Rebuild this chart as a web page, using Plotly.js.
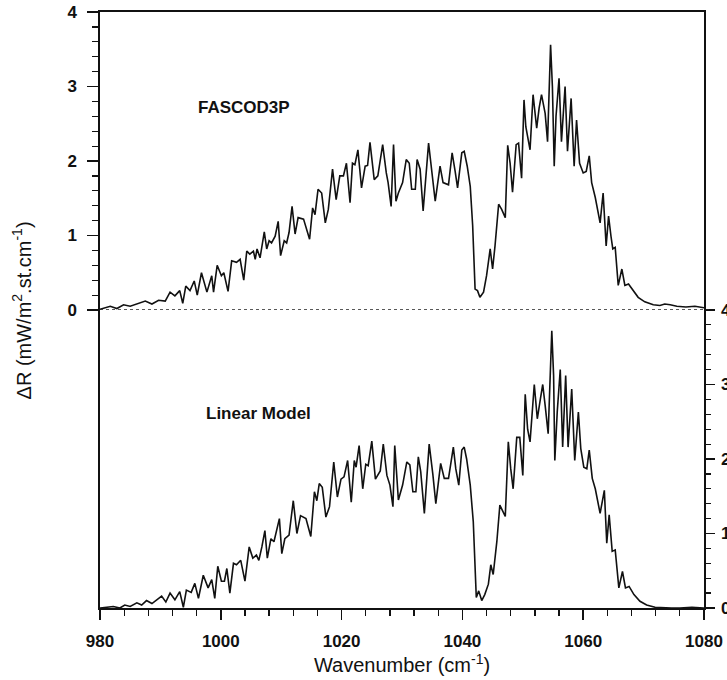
<!DOCTYPE html>
<html>
<head>
<meta charset="utf-8">
<script src="https://cdn.plot.ly/plotly-3.0.1.min.js"></script>
<style>html,body{margin:0;padding:0;background:#fff;}#chart{width:727px;height:680px;}</style>
</head>
<body>
<div id="chart"></div>
<script>
// Wavenumber (cm-1) and radiance perturbation (mW/m2.st.cm-1)
const fascodX = [980.0,981.7,982.8,983.9,985.0,986.3,987.5,988.6,989.7,990.8,991.6,992.4,993.2,993.7,994.2,994.9,995.6,996.1,996.8,997.7,998.5,998.8,999.4,1000.1,1000.5,1001.2,1001.8,1002.6,1003.2,1003.8,1004.3,1004.8,1005.4,1005.7,1006.0,1006.5,1007.2,1007.6,1008.0,1008.4,1009.0,1009.5,1009.9,1010.5,1010.9,1011.3,1011.8,1012.3,1012.8,1013.7,1014.7,1015.2,1015.6,1016.1,1016.7,1017.3,1017.8,1018.5,1019.1,1019.7,1020.3,1020.8,1021.4,1021.8,1022.2,1022.7,1023.3,1023.9,1024.3,1024.7,1025.4,1026.0,
1026.8,1027.4,1027.7,1028.2,1028.6,1029.0,1029.4,1030.1,1030.7,1031.2,1031.6,1032.2,1032.5,1033.0,1033.5,1034.4,1034.9,1035.5,1036.3,1036.8,1037.7,1038.3,1038.8,1039.2,1039.9,1040.3,1040.8,1041.3,1041.7,1042.1,1042.5,1042.9,1043.5,1044.0,1044.6,1045.0,1045.4,1046.0,1046.5,1047.1,1047.5,1047.9,1048.3,1048.9,1049.3,1049.8,1050.2,1050.5,1051.2,1051.7,1052.3,1052.7,1053.1,1053.7,1054.1,1054.6,1054.9,1055.2,1055.5,1056.0,1056.4,1057.0,1057.4,1058.0,1058.5,1058.9,1059.4,1060.0,1060.5,1061.0,1061.4,1062.0,1062.8,1063.3,1063.8,1064.2,1064.6,1064.9,1065.3,1065.8,1066.4,1066.9,1067.5,1068.3,1069.1,1070.2,1071.6,1072.7,1073.5,1074.4,1075.5,1077.0,1078.5,1080.0];
const fascodY = [0.01,0.05,0.02,0.07,0.05,0.09,0.12,0.08,0.13,0.12,0.24,0.19,0.26,0.09,0.32,0.26,0.39,0.20,0.50,0.24,0.46,0.24,0.60,0.46,0.50,0.25,0.66,0.64,0.68,0.40,0.79,0.75,0.79,0.68,0.82,0.70,1.05,0.82,0.93,0.90,0.99,1.19,0.73,0.93,0.90,1.04,1.39,1.02,1.24,1.22,0.95,1.37,1.28,1.62,1.57,1.17,1.35,1.89,1.48,1.80,1.80,1.97,1.44,1.97,1.95,2.15,1.64,1.93,1.94,2.25,1.75,1.80,
2.22,1.84,1.71,1.39,2.22,1.46,1.57,1.71,2.02,1.97,1.62,1.62,2.02,1.89,1.33,2.24,1.89,1.46,1.93,1.71,1.68,2.11,1.86,1.64,2.11,2.13,1.93,1.66,1.13,0.28,0.26,0.17,0.24,0.46,0.82,0.55,0.86,1.42,1.35,1.24,2.21,1.97,1.58,2.22,2.24,1.77,2.82,2.46,2.15,2.89,2.44,2.71,2.89,2.64,2.26,3.56,3.00,1.93,2.60,3.11,2.26,3.00,2.13,2.84,1.93,2.55,1.97,1.84,1.86,2.07,1.71,1.51,1.17,1.57,0.86,1.26,0.99,0.82,0.84,0.33,0.55,0.33,0.35,0.26,0.17,0.11,0.07,0.06,0.08,0.07,0.05,0.04,0.05,0.03];

const linearX = [980.0,981.1,982.2,983.3,984.1,985.0,986.1,986.9,987.7,988.6,989.4,990.2,990.9,991.6,992.4,993.2,993.8,994.3,995.1,995.7,996.3,997.1,997.9,998.5,999.0,999.5,1000.1,1000.6,1001.0,1001.5,1002.1,1002.6,1003.3,1004.0,1004.7,1005.3,1005.9,1006.3,1006.8,1007.3,1007.7,1008.3,1008.8,1009.7,1010.1,1010.6,1011.3,1012.0,1012.6,1013.2,1014.1,1014.9,1015.5,1015.9,1016.3,1016.8,1017.4,1018.0,1018.7,1019.3,1019.9,1020.4,1021.0,1021.6,1022.1,1022.4,1022.9,1023.5,1024.0,1024.4,1025.0,1025.6,1026.4,
1026.9,1027.5,1028.0,1028.5,1028.8,1029.4,1030.1,1030.8,1031.3,1031.8,1032.3,1032.7,1033.1,1033.7,1034.5,1035.1,1035.6,1036.4,1037.0,1037.7,1038.5,1038.9,1039.4,1039.9,1040.3,1040.7,1041.3,1041.8,1042.3,1042.7,1043.2,1043.7,1044.3,1044.7,1045.1,1045.7,1046.2,1047.1,1047.6,1048.0,1048.4,1049.0,1049.5,1050.0,1050.4,1050.8,1051.2,1051.9,1052.4,1052.9,1053.3,1053.7,1054.2,1054.8,1055.1,1055.3,1055.7,1056.2,1056.6,1057.1,1057.5,1058.1,1058.6,1059.2,1059.6,1060.1,1060.6,1061.0,1061.5,1062.0,1062.8,1063.5,1063.9,1064.3,1064.8,1065.3,1065.9,1066.5,1067.0,1067.6,1068.4,1069.4,1070.5,1071.9,1073.3,1074.6,1076.0,1078.0,1080.0];
const linearY = [0.00,0.01,0.02,0.00,0.04,0.02,0.07,0.04,0.10,0.06,0.11,0.16,0.08,0.20,0.11,0.22,0.01,0.24,0.21,0.33,0.13,0.44,0.27,0.38,0.13,0.56,0.36,0.36,0.53,0.20,0.60,0.58,0.64,0.36,0.82,0.67,0.71,0.64,0.82,1.04,0.67,0.93,0.89,1.20,0.73,0.93,0.98,1.44,1.00,1.24,1.20,0.96,1.56,1.44,1.67,1.62,1.22,1.36,1.96,1.49,1.73,1.76,1.98,1.42,1.98,1.89,2.18,1.60,1.93,1.91,2.24,1.73,1.84,
2.20,1.78,1.65,1.36,2.18,1.45,1.65,1.96,1.92,1.56,1.56,2.03,1.83,1.27,2.20,1.80,1.40,1.94,1.74,1.74,2.16,1.87,1.65,2.12,2.16,2.00,1.65,1.16,0.14,0.23,0.10,0.18,0.32,0.58,0.45,0.89,1.38,1.23,2.23,1.87,1.60,2.29,2.29,1.78,2.87,2.40,2.23,3.00,2.54,2.80,3.00,2.72,2.34,3.72,3.12,1.98,2.63,3.20,2.16,3.12,2.16,2.94,1.98,2.63,2.14,1.89,1.87,2.12,1.74,1.60,1.27,1.58,0.87,1.25,0.76,0.78,0.27,0.49,0.27,0.29,0.18,0.09,0.04,0.01,0.00,0.00,0.00,0.01,0.00];

const xTicks = [980, 1000, 1020, 1040, 1060, 1080];
const yTicks = [0, 1, 2, 3, 4];
const panelLabels = ["FASCOD3P", "Linear Model"];

const FONT = "Liberation Sans, Arial, sans-serif";
const lineStyle = {color: "#111", width: 1.6};

const traces = [
  {x: fascodX, y: fascodY, xaxis: "x2", yaxis: "y2", type: "scatter", mode: "lines", line: lineStyle, name: panelLabels[0], hoverinfo: "skip"},
  {x: linearX, y: linearY, xaxis: "x", yaxis: "y", type: "scatter", mode: "lines", line: lineStyle, name: panelLabels[1], hoverinfo: "skip"}
];

const tickFont = {family: FONT, size: 17, color: "#111", weight: "bold"};

const layout = {
  width: 727, height: 680,
  margin: {l: 100, r: 23, t: 12, b: 72},
  paper_bgcolor: "#fff", plot_bgcolor: "#fff",
  showlegend: false,
  font: {family: FONT, color: "#111"},
  xaxis: {
    domain: [0, 1], anchor: "y", range: [980, 1080],
    tickvals: xTicks, ticktext: xTicks.map(String),
    ticks: "outside", ticklen: 10, tickwidth: 1.5, tickcolor: "#111",
    minor: {dtick: 4, tick0: 980, ticks: "outside", ticklen: 6, tickwidth: 1.3, tickcolor: "#111"},
    showline: true, linewidth: 1.7, linecolor: "#111",
    showgrid: false, zeroline: false,
    tickfont: tickFont, ticklabelstandoff: 7,
    title: {text: "Wavenumber (cm<sup>-1</sup>)", font: {family: FONT, size: 20, color: "#111"}, standoff: 2}
  },
  yaxis: {
    domain: [0, 0.5], anchor: "x", side: "right", range: [0, 4],
    tickvals: yTicks, ticks: "outside", ticklen: 9, tickwidth: 1.5, tickcolor: "#111",
    minor: {dtick: 0.2, ticks: "outside", ticklen: 5, tickwidth: 1.2, tickcolor: "#111"},
    showline: true, mirror: true, linewidth: 1.7, linecolor: "#111",
    showgrid: false, zeroline: false,
    tickfont: tickFont, ticklabelstandoff: 3
  },
  xaxis2: {
    domain: [0, 1], anchor: "y2", side: "top", range: [980, 1080],
    showticklabels: false, ticks: "",
    showline: true, linewidth: 1.7, linecolor: "#111",
    showgrid: false, zeroline: false
  },
  yaxis2: {
    domain: [0.5, 1], anchor: "x2", side: "left", range: [0, 4],
    tickvals: yTicks, ticks: "outside", ticklen: 11, tickwidth: 1.5, tickcolor: "#111",
    minor: {dtick: 0.2, ticks: "outside", ticklen: 6, tickwidth: 1.2, tickcolor: "#111"},
    showline: true, mirror: true, linewidth: 1.7, linecolor: "#111",
    showgrid: false, zeroline: false,
    tickfont: tickFont, ticklabelstandoff: 7
  },
  shapes: [
    {type: "line", xref: "paper", yref: "y2", x0: 0, x1: 1.012, y0: 0, y1: 0,
     line: {color: "#222", width: 1.5, dash: "dot"}}
  ],
  annotations: [
    {text: "<b>" + panelLabels[0] + "</b>", xref: "x2", yref: "y2", x: 1003.8, y: 2.72,
     showarrow: false, font: {family: FONT, size: 17, color: "#111"}},
    {text: "<b>" + panelLabels[1] + "</b>", xref: "x", yref: "y", x: 1006.3, y: 2.61,
     showarrow: false, font: {family: FONT, size: 17, color: "#111"}},
    {text: "ΔR (mW/m<sup>2</sup>.st.cm<sup>-1</sup>)", xref: "paper", yref: "paper",
     x: -0.13, y: 0.5, xanchor: "center", yanchor: "middle", textangle: -90,
     showarrow: false, font: {family: FONT, size: 20, color: "#111"}}
  ]
};

Plotly.newPlot("chart", traces, layout, {displayModeBar: false, staticPlot: true});
</script>
</body>
</html>
